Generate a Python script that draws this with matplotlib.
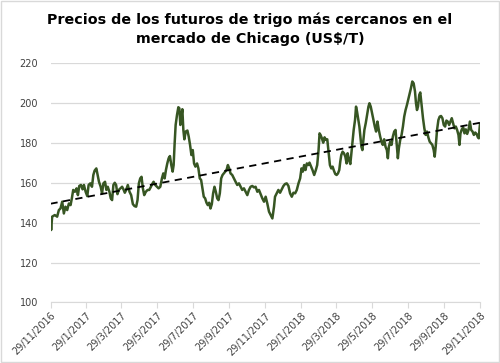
import numpy as np
import pandas as pd
import matplotlib
matplotlib.use("Agg")
import matplotlib.pyplot as plt
import matplotlib.dates as mdates
from matplotlib.patches import Rectangle
from matplotlib import font_manager

# -----------------------------
# Data
# days after 29/11/2016, price in US$/T
# -----------------------------
start_date = "2016-11-29"

days = [
    0, 1.1, 2.8, 7.3, 11.3, 14.2, 17.0, 19.9, 22.7, 25.5, 28.4, 31.2, 34.1, 36.3,
    38.6, 41.5, 44.3, 46.6, 48.9, 51.7, 54.5, 56.8, 59.7, 62.5, 64.8, 67.6, 70.5,
    72.8, 75.0, 77.9, 80.2, 82.4, 85.3, 87.6, 89.9, 92.7, 95.0, 97.3, 100.1, 102.4,
    104.7, 106.9, 109.2, 111.5, 113.8, 116.0, 118.9, 121.7, 124.0, 126.3, 128.6,
    131.4, 134.3, 137.1, 140.0, 142.8, 145.6, 147.9, 150.2, 152.5, 154.7, 157.0,
    159.3, 162.1, 165.0, 167.8, 170.7, 172.9, 175.2, 178.0, 180.9, 183.7, 186.6,
    189.4, 191.7, 194.0, 196.2, 198.5, 200.8, 203.0, 205.3, 207.6, 209.3, 211.0,
    212.7, 215.0, 217.3, 219.0, 220.7, 222.4, 224.1, 225.8, 227.5, 229.8, 232.7,
    234.9, 237.2, 239.5, 241.8, 244.0, 246.3, 249.1, 251.4, 253.7, 256.0, 258.2,
    260.5, 262.8, 265.1, 267.3, 269.6, 271.9, 274.2, 276.4, 278.7, 281.0, 283.3,
    285.5, 287.8, 290.1, 292.4, 294.6, 296.9, 299.2, 301.5, 303.7, 306.0, 308.9,
    311.7, 314.6, 317.4, 320.3, 323.1, 325.9, 328.8, 331.6, 334.5, 337.3,
    340.1, 343.0, 345.8, 348.6, 351.5, 354.3, 357.2, 360.0, 362.9, 365.7, 368.5,
    371.4, 374.2, 377.1, 379.9, 381.6, 384.5, 387.3, 390.2, 393.0, 395.9, 398.7,
    401.5, 404.4, 407.2, 410.1, 412.9, 415.8, 418.6, 421.5, 424.3, 426.6, 428.9,
    431.1, 433.4, 435.7, 438.0, 440.2, 442.5, 445.3, 448.2, 451.0, 453.3, 455.6,
    457.3, 459.0, 461.3, 463.5, 465.8, 468.1, 470.4, 472.6, 474.9, 477.2, 479.5,
    481.7, 484.0, 486.3, 488.6, 490.8, 492.5, 494.2, 496.5, 498.8, 501.1, 503.3,
    505.0, 507.3, 509.6, 511.9, 513.6, 515.3, 517.6, 519.3, 521.0, 522.7, 525.0,
    526.7, 528.4, 530.1, 531.8, 533.5, 535.8, 538.1, 540.4, 542.1, 544.3, 546.6,
    548.9, 551.2, 553.4, 555.7, 558.0, 560.3, 562.6, 564.8, 567.1, 569.4, 571.7,
    573.4, 575.1, 577.3, 579.6, 581.9, 584.2, 586.4, 588.7, 590.4, 592.1, 594.4,
    596.7, 599.0, 601.2, 603.5, 605.8, 608.1, 610.4, 612.6, 614.9, 617.2, 619.5,
    621.2, 622.9, 624.6, 626.8, 628.5, 630.8, 633.1, 635.4, 637.6, 639.9, 642.2,
    644.5, 646.8, 649.0, 651.3, 653.0, 654.7, 657.0, 659.3, 661.5, 663.8, 666.1,
    668.4, 670.7, 672.9, 675.2, 677.5, 679.8, 682.0, 684.3, 686.6, 688.9, 691.1,
    693.4, 695.1, 696.8, 699.1, 701.4, 703.6, 705.9, 708.2, 710.5, 712.8, 715.0,
    717.3, 719.6, 721.9, 724.2, 726.4, 728.0, 729.0, 730.0,
]

price = [
    141.3, 136.3, 143.0, 143.8, 143.0, 146.3, 147.1, 150.5, 144.6, 148.0, 146.3,
    149.6, 148.8, 152.2, 156.4, 155.5, 157.2, 153.8, 158.4, 158.9, 156.7, 158.9,
    155.5, 153.3, 158.9, 159.7, 158.0, 163.9, 166.1, 167.2, 163.9, 160.5, 158.0,
    154.7, 159.7, 160.5, 156.4, 158.0, 155.5, 152.2, 151.3, 158.9, 160.0, 158.9,
    154.3, 156.4, 157.2, 158.0, 156.7, 155.0, 156.4, 158.9, 155.5, 153.8, 149.3,
    148.3, 148.0, 151.3, 159.7, 162.2, 163.0, 157.2, 153.8, 155.5, 156.4, 156.4,
    158.0, 159.4, 160.5, 158.9, 158.0, 157.2, 158.0, 162.2, 164.7, 162.2, 166.4,
    169.7, 172.3, 173.4, 168.9, 165.6, 168.9, 179.8, 189.0, 194.0, 197.9, 197.4,
    189.0, 193.2, 196.9, 186.5, 181.8, 185.7, 186.2, 183.2, 179.0, 173.9, 176.4,
    169.7, 168.1, 169.7, 167.2, 162.2, 161.4, 157.2, 153.0, 152.2, 150.0, 148.8,
    150.0, 147.1, 149.3, 154.7, 158.0, 155.5, 152.2, 151.3, 154.7, 162.2, 163.9,
    164.7, 165.6, 166.4, 168.9, 167.2, 164.7, 163.9, 162.2, 160.5, 158.9, 159.7,
    158.0, 156.4, 157.2, 155.5, 153.8, 156.4,
    158.0, 158.4, 157.7, 158.0, 155.5, 156.4, 154.3, 152.2, 150.5, 153.0, 149.6,
    145.5, 143.8, 142.1, 148.0, 153.0, 154.7, 156.4, 155.0, 156.7, 158.4, 159.4,
    159.7, 158.4, 154.7, 153.0, 155.0, 154.7, 156.4, 159.7, 162.2, 167.2, 165.6,
    168.9, 166.4, 169.7, 168.9, 170.1, 168.4, 166.4, 163.9, 166.4, 168.9, 176.4,
    184.8, 184.0, 182.3, 180.1, 182.8, 181.5, 181.8, 175.6, 168.9, 167.2, 168.1,
    166.1, 164.4, 163.9, 164.7, 166.4, 170.6, 173.9, 175.6, 174.8, 173.1, 169.7,
    174.8, 171.4, 169.4, 176.4, 181.5, 186.5, 191.5, 198.2, 195.7, 192.4, 188.2,
    183.2, 178.1, 176.4, 181.5, 186.5, 189.9, 194.0, 198.2, 199.9, 198.2, 194.9,
    191.5, 188.2, 185.7, 190.7, 186.5, 183.2, 180.6, 179.0, 181.8, 178.1, 176.4,
    172.3, 178.1, 180.6, 179.0, 183.2, 185.7, 186.5, 178.1, 172.3, 177.3, 181.5,
    184.0, 188.2, 193.2, 196.5, 199.0, 201.9, 204.9, 207.4, 210.8, 209.9, 205.8,
    199.9, 196.5, 198.2, 204.1, 205.3, 199.0, 192.4, 187.3, 184.0, 185.7, 182.8,
    180.6, 179.8, 179.0, 176.4, 173.1, 178.1, 186.5, 191.5, 193.2, 193.5, 192.4,
    189.0, 188.2, 191.2, 190.7, 189.0, 190.7, 192.4, 189.9, 187.3, 188.2, 186.5,
    184.0, 179.0, 184.8, 186.8, 187.8, 184.8, 186.8, 184.5, 186.5, 190.7, 186.5,
    185.7, 184.0, 185.2, 184.5, 182.8, 182.3, 186.5, 189.5,
]

tick_labels = [
    "29/11/2016", "29/1/2017", "29/3/2017", "29/5/2017", "29/7/2017",
    "29/9/2017", "29/11/2017", "29/1/2018", "29/3/2018", "29/5/2018",
    "29/7/2018", "29/9/2018", "29/11/2018",
]

y_ticks = [100, 120, 140, 160, 180, 200, 220]

title = "Precios de los futuros de trigo más cercanos en el\nmercado de Chicago (US$/T)"

# pick a narrow font for the title if one is installed
installed = {f.name for f in font_manager.fontManager.ttflist}
title_font = "DejaVu Sans"
for name in ["Liberation Sans Narrow", "DejaVu Sans Condensed"]:
    if name in installed:
        title_font = name
        break

# -----------------------------
# Build dates
# -----------------------------
dates = pd.Timestamp(start_date) + pd.to_timedelta(days, unit="D")
tick_dates = pd.to_datetime(tick_labels, format="%d/%m/%Y")

# linear trend (like Excel's trendline)
x_num = mdates.date2num(dates)
coef = np.polyfit(x_num, price, 1)
trend = np.polyval(coef, x_num)

# -----------------------------
# Plot
# -----------------------------
fig = plt.figure(figsize=(5, 3.63), dpi=100)
ax = fig.add_axes([0.101, 0.167, 0.859, 0.659])

ax.plot(dates, price, color="#375623", linewidth=1.8, zorder=3)
ax.plot(dates, trend, color="black", linewidth=1.3, linestyle=(0, (4, 3)), zorder=4)

ax.set_ylim(100, 220)
ax.set_yticks(y_ticks)
ax.set_xlim(tick_dates[0], tick_dates[-1])
ax.set_xticks(tick_dates)
ax.set_xticklabels(tick_labels, rotation=45, ha="right", rotation_mode="anchor")

ax.grid(axis="y", color="#d9d9d9", linewidth=0.9)
ax.set_axisbelow(True)

for side in ["left", "right", "top"]:
    ax.spines[side].set_visible(False)
ax.spines["bottom"].set_color("#d9d9d9")

ax.tick_params(axis="y", length=0, labelsize=7, labelcolor="#404040", pad=9)
ax.tick_params(axis="x", length=4, color="#d9d9d9", labelsize=7,
               labelcolor="#404040", pad=2)

fig.text(0.5, 0.966, title, ha="center", va="top", fontsize=10.3,
         fontweight="bold", family=title_font, linespacing=1.5)

# light chart border
fig.patches.append(Rectangle((0.002, 0.002), 0.996, 0.995, transform=fig.transFigure,
                             fill=False, edgecolor="#d9d9d9", linewidth=1))

fig.savefig("out.png", dpi=100)
